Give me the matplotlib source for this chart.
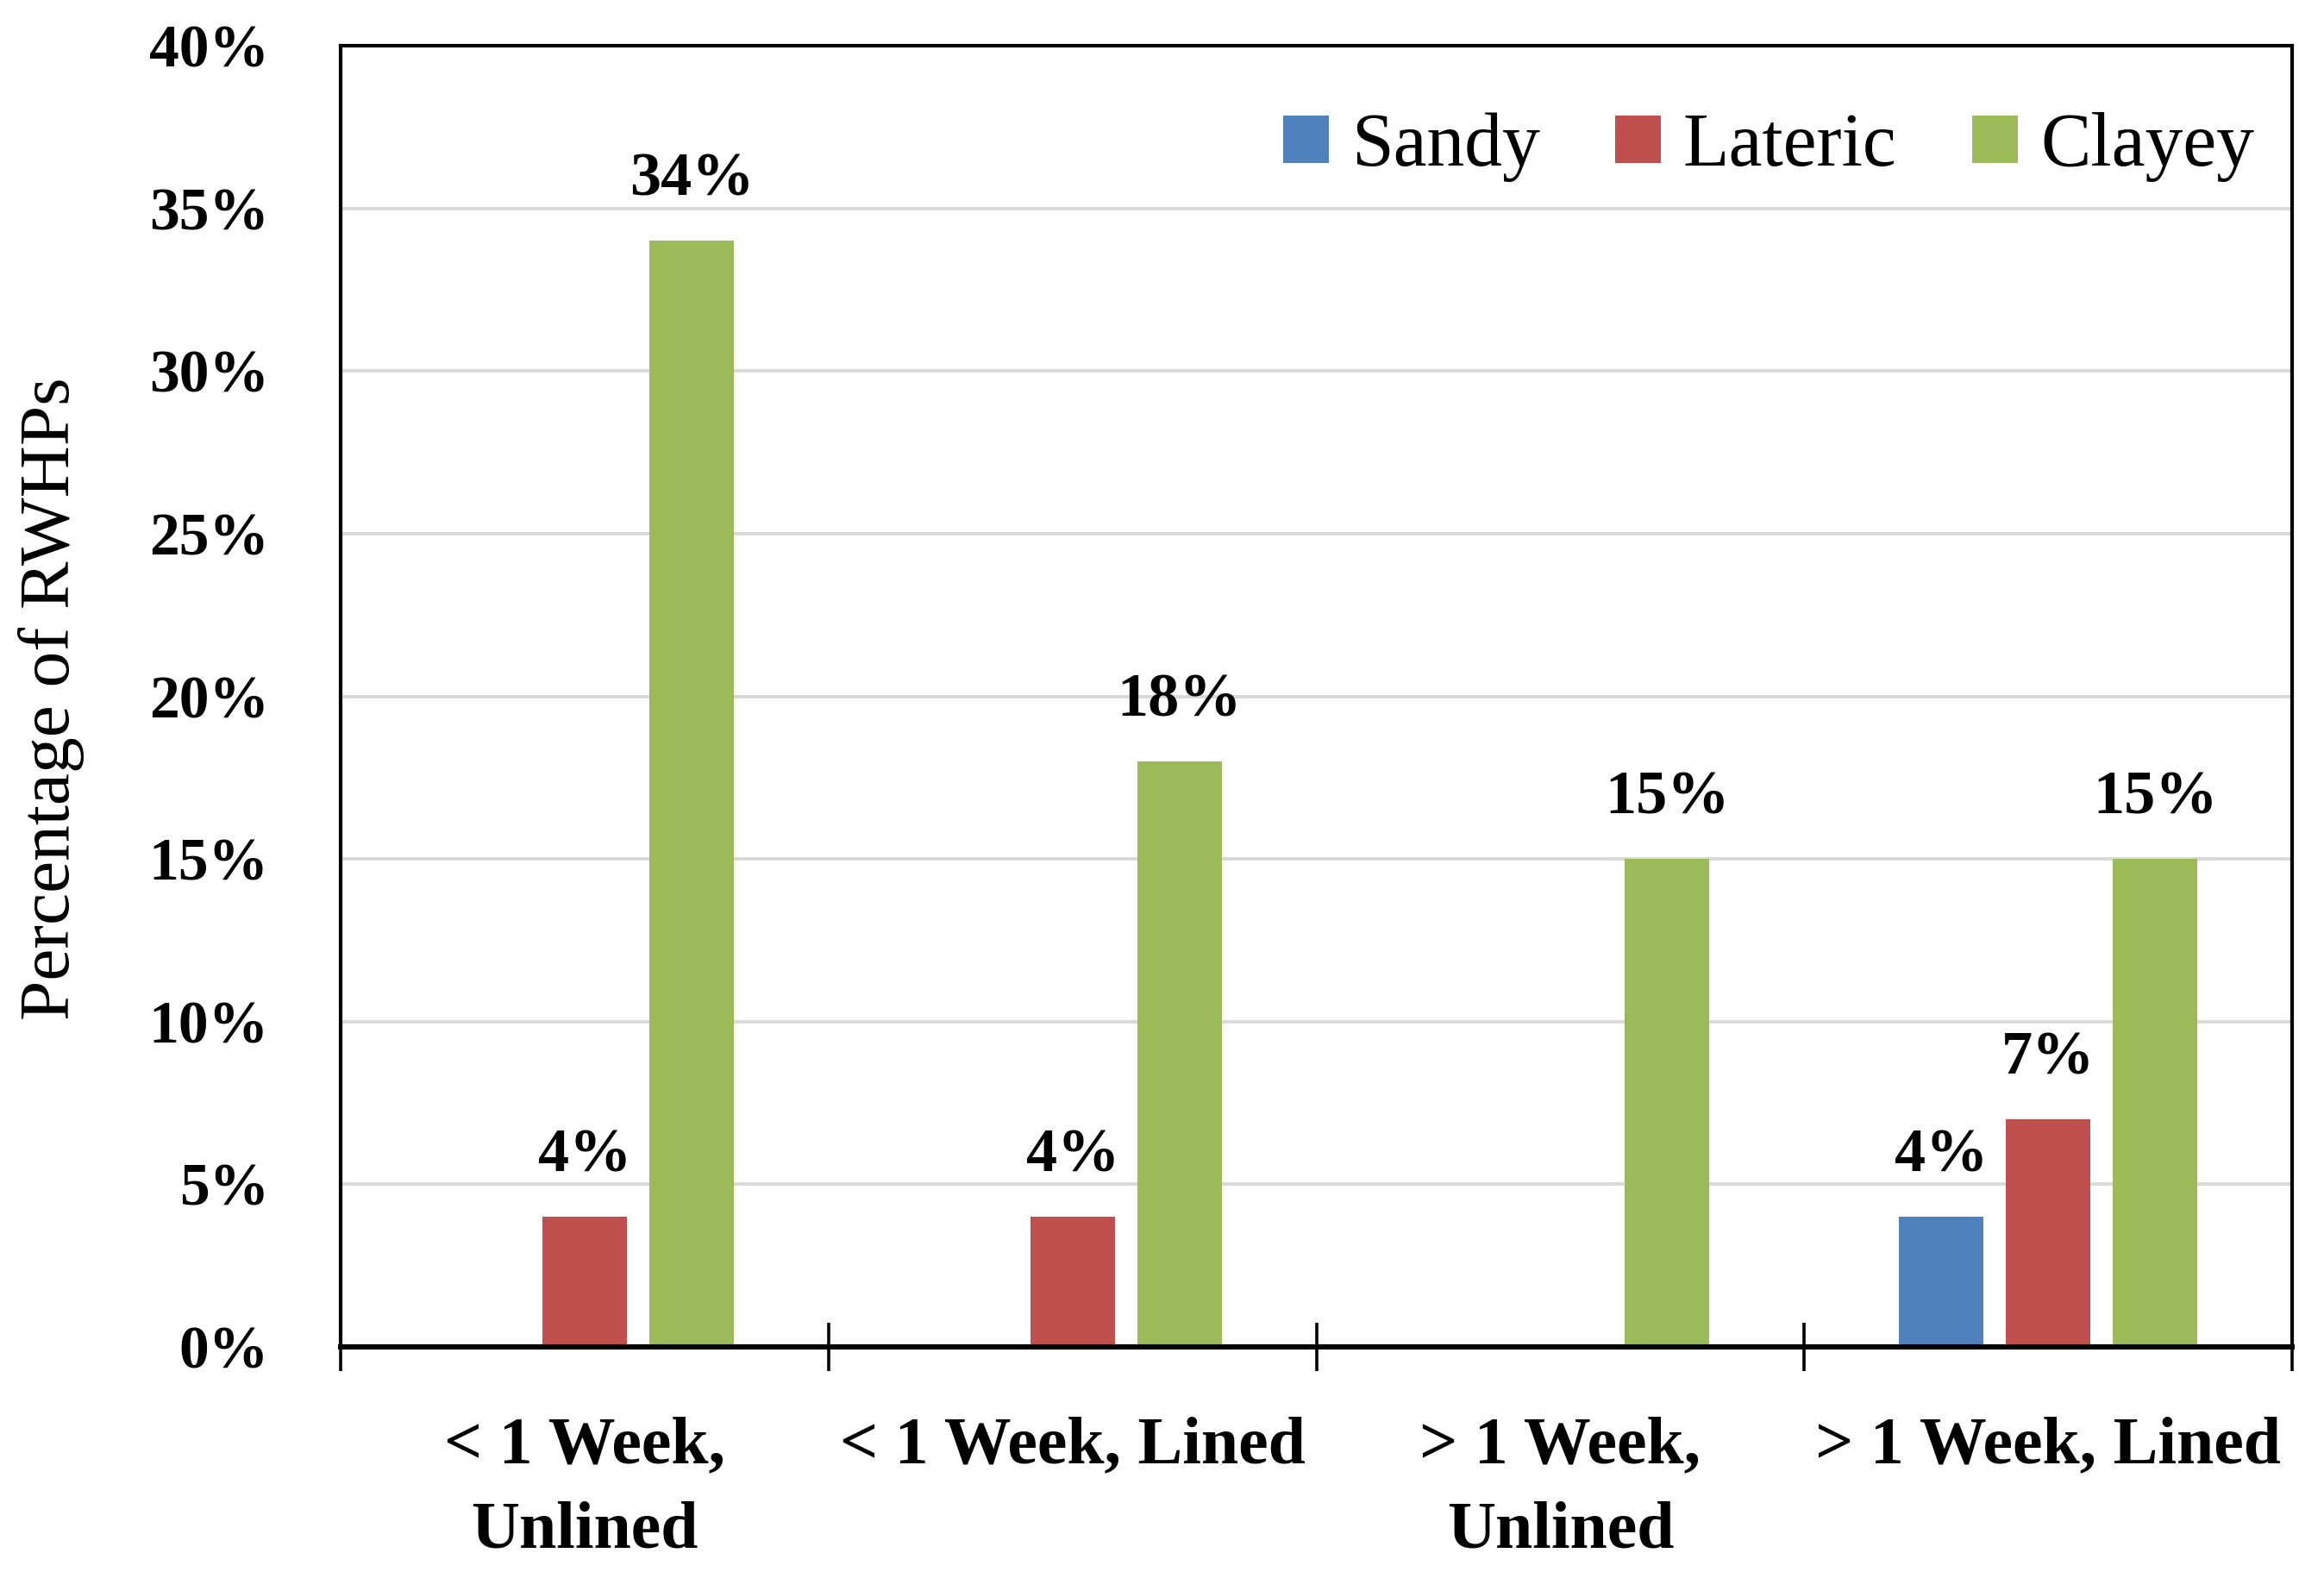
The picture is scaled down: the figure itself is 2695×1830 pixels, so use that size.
import matplotlib
matplotlib.use("Agg")
import matplotlib.pyplot as plt
import numpy as np

# data (percent of RWHPs)
categories = ["< 1 Week,\nUnlined", "< 1 Week, Lined", "> 1 Week,\nUnlined", "> 1 Week, Lined"]
series_names = ["Sandy", "Lateric", "Clayey"]
sandy = [0, 0, 0, 4]
lateric = [4, 4, 0, 7]
clayey = [34, 18, 15, 15]
y_ticks = [0, 5, 10, 15, 20, 25, 30, 35, 40]

colors = ["#4F81BD", "#C0504D", "#9BBB59"]

plt.rcParams['font.family'] = ['Liberation Serif', 'DejaVu Serif']

fig = plt.figure(figsize=(13.475, 9.15), dpi=200)
ax = fig.add_axes([0.1466, 0.1464, 0.9863 - 0.1466, 0.971 - 0.1464])

x = np.arange(len(categories))
width = 0.173
step = 0.219

bars = []
for i, (vals, col) in enumerate(zip([sandy, lateric, clayey], colors)):
    b = ax.bar(x + (i - 1) * step, vals, width, color=col, label=series_names[i], zorder=3)
    bars.append(b)
    for rect, v in zip(b, vals):
        if v > 0:
            ax.annotate(f"{v}%", (rect.get_x() + rect.get_width() / 2, v),
                        xytext=(0, 19), textcoords="offset points",
                        ha="center", va="baseline", fontsize=26, fontweight="bold")

# axes ranges and ticks
ax.set_xlim(-0.5, len(categories) - 0.5)
ax.set_ylim(0, 40)
ax.set_yticks(y_ticks)
ax.set_yticklabels([f"{t}%" for t in y_ticks], fontsize=25, fontweight="bold")
ax.tick_params(axis="y", length=0, pad=30)

ax.set_xticks(x)
ax.set_xticklabels(categories, fontsize=28, fontweight="bold", linespacing=1.5)
ax.set_xticks(np.arange(len(categories) + 1) - 0.5, minor=True)
ax.tick_params(axis="x", which="major", length=0, pad=29)
ax.tick_params(axis="x", which="minor", length=20, width=1.3, direction="inout")

ax.yaxis.grid(True, color="#D9D9D9", linewidth=1.4, zorder=0)
ax.set_axisbelow(True)

for side in ["left", "top", "right"]:
    ax.spines[side].set_linewidth(1.5)
ax.spines["bottom"].set_linewidth(2.2)
ax.spines["bottom"].set_zorder(4)

fig.text(60 / 2695, 1 - 810 / 1830, "Percentage of RWHPs", rotation=90,
         ha="center", va="center", fontsize=30)

ax.legend(handles=bars, loc="center right", bbox_to_anchor=(0.9805, 0.922),
          ncol=3, frameon=False, fontsize=31.5, borderpad=0, borderaxespad=0,
          handlelength=0.6, handleheight=0.6, handletextpad=0.3, columnspacing=1.0)

fig.savefig("out.png", dpi=200)
